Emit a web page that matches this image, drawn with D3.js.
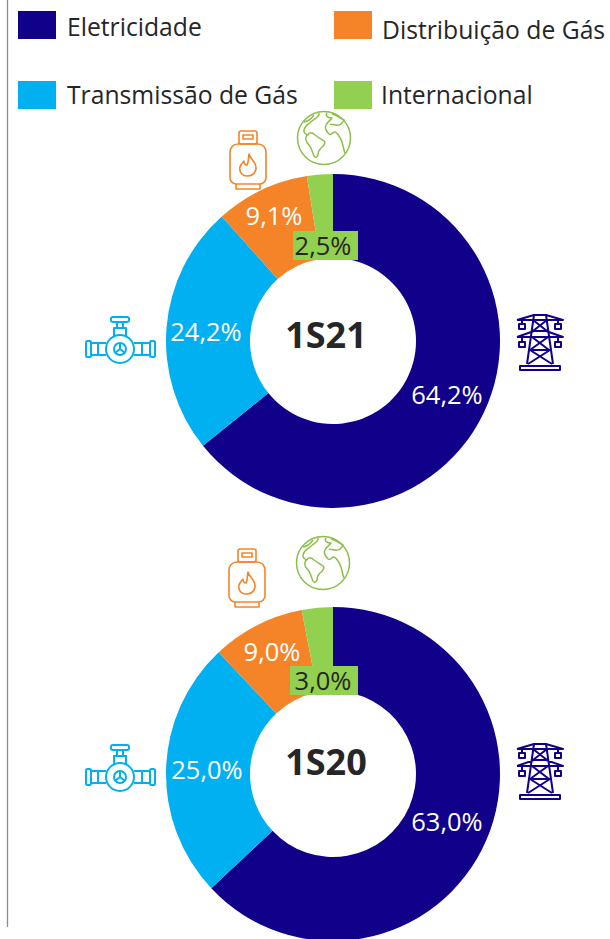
<!DOCTYPE html>
<html><head><meta charset="utf-8">
<script src="https://cdnjs.cloudflare.com/ajax/libs/d3/7.8.5/d3.min.js"></script>
<style>html,body{margin:0;padding:0;background:#fff}svg{display:block}text{font-family:"Open Sans",sans-serif}</style>
</head><body><svg id="c" width="610" height="939"></svg>
<script>
const categories = ["Eletricidade","Transmissão de Gás","Distribuição de Gás","Internacional"];
const colors = ["#11008a","#00b0f0","#f58429","#92d14f"];
const periods = ["1S21","1S20"];
const values1S21 = [64.2,24.2,9.1,2.5];
const values1S20 = [63.0,25.0,9.0,3.0];
const series = [values1S21, values1S20];
const centersY = [341,774];
const centerLabel = [[326,348],[326,775]];
const labelPos = [[[447,395],[206,332],[274,216],[323,246]],[[447,822],[207,770],[272,652],[323,681]]];
const tagRects = [[293,231,65,29],[290,666,68,29]];
const legendPos = [[18,11,67,36],[18,81,67,104],[334,11,382,39],[334,81,381,104]];

const svg = d3.select("#c");

svg.append("line").attr("x1",7.5).attr("x2",7.5).attr("y1",0).attr("y2",927).attr("stroke","#8c8c8c").attr("stroke-width",1.3);

categories.forEach((c,i)=>{
  const p = legendPos[i];
  svg.append("rect").attr("x",p[0]).attr("y",p[1]).attr("width",38).attr("height",28).attr("fill",colors[i]);
  svg.append("text").attr("x",p[2]).attr("y",p[3]).attr("font-size",24.7).attr("fill","#262626").text(c);
});

const pie = d3.pie().sort(null);
const arc = d3.arc().innerRadius(83).outerRadius(167);
series.forEach((vals,k)=>{
  const g = svg.append("g").attr("transform",`translate(333,${centersY[k]})`);
  g.selectAll("path").data(pie(vals)).join("path").attr("d",arc).attr("fill",(d,i)=>colors[i]);
  svg.append("text").attr("x",centerLabel[k][0]).attr("y",centerLabel[k][1]).attr("text-anchor","middle").attr("font-size",36).attr("font-weight",700).attr("fill","#262626").text(periods[k]);
  const r = tagRects[k];
  svg.append("rect").attr("x",r[0]).attr("y",r[1]).attr("width",r[2]).attr("height",r[3]).attr("fill",colors[3]);
  vals.forEach((v,i)=>{
    svg.append("text").attr("x",labelPos[k][i][0]).attr("y",labelPos[k][i][1]).attr("dy","0.36em")
      .attr("text-anchor","middle").attr("font-size",25.5).attr("fill",i===3?"#262626":"#fff")
      .text(d3.format(".1f")(v).replace(".",",")+"%");
  });
});

// icons
function globe(g){
  g.attr("fill","none").attr("stroke","#8cbf4a").attr("stroke-width",1.5).attr("stroke-linejoin","round");
  g.append("circle").attr("r",26.5);
  g.append("path").attr("d","M-5,-25 C-4,-21 -9,-20 -12,-17 C-15,-14 -19,-13 -20,-8 C-21,-5 -18,-4 -16,-3 C-15,-6 -12,-6 -9,-3 C-5,0 -3,1 0,3 C2,4 0,8 -3,10 C-5,12 -6,14 -6,17 C-7,20 -9,20 -10,18 C-12,14 -12,10 -15,7 C-18,4 -19,0 -17,-3");
  g.append("path").attr("d","M3,-25 C1,-22 4,-20 8,-20 C6,-17 3,-16 2,-13 C0,-9 3,-6 5,-4 C8,-2 9,-7 11,-6 C14,-5 16,-1 18,4 C19,7 20,13 21,15");
  g.append("path").attr("d","M8,-24 C13,-23 16,-20 20,-18 C18,-14 16,-12 12,-13 C10,-14 7,-13 6,-14");
  g.append("path").attr("d","M-20,-16 C-15,-17 -12,-20 -10,-23");
}
function bottle(g){
  g.attr("fill","none").attr("stroke","#f58429").attr("stroke-width",1.6).attr("stroke-linejoin","round");
  g.append("rect").attr("x",-9).attr("y",0).attr("width",18).attr("height",13).attr("rx",2);
  g.append("rect").attr("x",-5).attr("y",4).attr("width",10).attr("height",4);
  g.append("path").attr("d","M-10,13 L10,13 C15,13 18,17 18,21 L18,47 C18,50 15,53 12,53 L-12,53 C-15,53 -18,50 -18,47 L-18,21 C-18,17 -15,13 -10,13 Z");
  g.append("path").attr("d","M-12,53 L-12,58 L12,58 L12,53");
  g.append("path").attr("d","M1,23 C2,28 9,31 8,38 C7,43 3,45 -1,45 C-6,45 -9,41 -8,36 C-7,33 -5,31 -4,30 C-4,33 -3,34 -1,34 C1,31 0,27 1,23 Z");
}
function valve(g){
  g.attr("fill","none").attr("stroke","#00b0f0").attr("stroke-width",2).attr("stroke-linejoin","round");
  g.append("circle").attr("cx",35).attr("cy",32).attr("r",14);
  g.append("circle").attr("cx",35).attr("cy",32).attr("r",6);
  g.append("path").attr("d","M35,32 L35,26 M35,32 L30,36 M35,32 L40,36");
  g.append("rect").attr("x",26).attr("y",0).attr("width",18).attr("height",5).attr("rx",2);
  g.append("path").attr("d","M32,5 L32,11 M38,5 L38,11 M29,19 L29,11 L41,11 L41,19");
  g.append("rect").attr("x",1).attr("y",24).attr("width",5).attr("height",16).attr("rx",1.5);
  g.append("rect").attr("x",65).attr("y",24).attr("width",5).attr("height",16).attr("rx",1.5);
  g.append("path").attr("d","M6,26 L21,26 M6,38 L21,38 M13,26 L13,38 M49,26 L65,26 M49,38 L65,38 M57,26 L57,38");
}
function tower(g){
  g.attr("fill","none").attr("stroke","#11008a").attr("stroke-width",2).attr("stroke-linejoin","round");
  g.append("path").attr("d","M0,7 L17,2 L29,2 L46,7 L0,7 M0,24 L17,18 L29,18 L46,24 L0,24 M17,2 L10,51 M29,2 L36,51");
  g.append("path").attr("d","M16,7 L30,18 M16,18 L30,7 M15,24 L32,37 M31,24 L13,37 M13,37 L35,51 M33,37 L11,51 M16,18 L30,18 M15,24 L31,24 M13,37 L33,37");
  g.append("path").attr("d","M3,57 L43,57 L43,53 L3,53 Z");
  g.append("rect").attr("x",2).attr("y",11).attr("width",6).attr("height",5);
  g.append("rect").attr("x",38).attr("y",11).attr("width",6).attr("height",5);
  g.append("rect").attr("x",2).attr("y",29).attr("width",6).attr("height",5);
  g.append("rect").attr("x",38).attr("y",29).attr("width",6).attr("height",5);
  g.append("path").attr("d","M5,7 L5,11 M41,7 L41,11 M5,24 L5,29 M41,24 L41,29");
}
const icons = [[globe,324,138],[bottle,248,131],[valve,85,317],[tower,517,313],[globe,323,563],[bottle,247,549],[valve,85,745],[tower,517,742]];
icons.forEach(([f,x,y])=>{ f(svg.append("g").attr("transform",`translate(${x},${y})`)); });
</script></body></html>
